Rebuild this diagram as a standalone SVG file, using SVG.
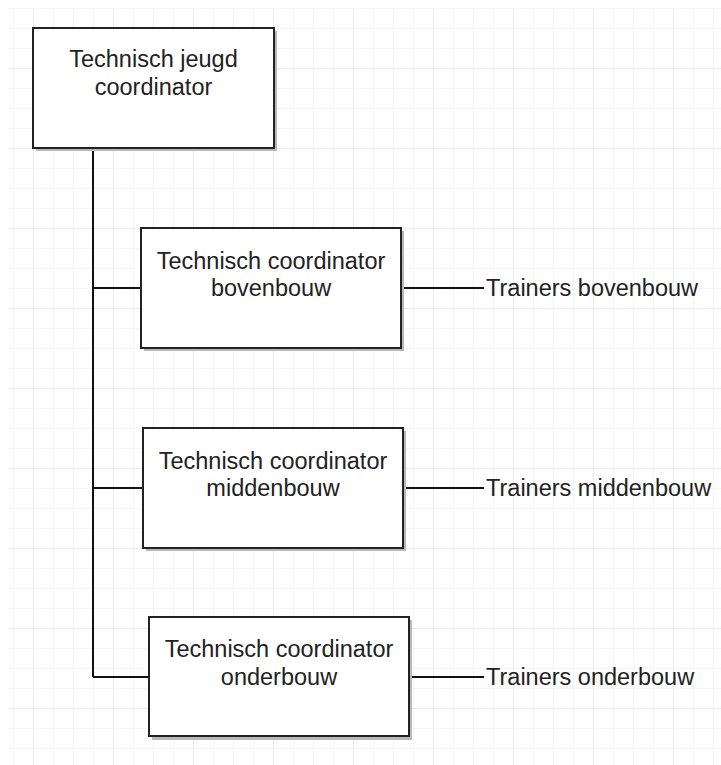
<svg xmlns="http://www.w3.org/2000/svg" width="721" height="765" viewBox="0 0 721 765">
<defs>
<pattern id="minor" x="13" y="8" width="20" height="20" patternUnits="userSpaceOnUse">
<path d="M0 0 V20 M0 0 H20" fill="none" stroke="#f3f3f3" stroke-width="1.5"/>
</pattern>
<pattern id="major" x="33" y="68" width="80" height="80" patternUnits="userSpaceOnUse">
<path d="M0 0 V80 M0 0 H80" fill="none" stroke="#e8e8e8" stroke-width="1.5"/>
</pattern>
</defs>
<style>
.box{fill:#ffffff;stroke:#222222;stroke-width:2}
.shadow{fill:#b8b8b8}
.edge{fill:none;stroke:#111111;stroke-width:2}
.t{font-family:"Liberation Sans",Arial,sans-serif;font-size:23.5px;fill:#222222}
.c{text-anchor:middle}
</style>
<rect width="721" height="765" fill="#ffffff"/>
<rect x="8" y="8" width="713" height="757" fill="url(#minor)"/>
<rect x="8" y="8" width="713" height="757" fill="url(#major)"/>
<g id="connectors">
<path class="edge" d="M93 148 V677"/>
<path class="edge" d="M93 288 H141"/>
<path class="edge" d="M93 488 H143"/>
<path class="edge" d="M93 677 H149"/>
<path class="edge" d="M401 288 H484"/>
<path class="edge" d="M403 488 H484"/>
<path class="edge" d="M409 677 H484"/>
</g>
<g id="jeugd-coordinator">
<rect class="shadow" x="36" y="31" width="241" height="120"/>
<rect class="box" x="33" y="28" width="241" height="120"/>
<text class="t c" x="153.5" y="67">Technisch jeugd</text>
<text class="t c" x="153.5" y="95">coordinator</text>
</g>
<g id="coordinator-bovenbouw">
<rect class="shadow" x="144" y="231" width="260" height="120"/>
<rect class="box" x="141" y="228" width="260" height="120"/>
<text class="t c" x="271" y="269">Technisch coordinator</text>
<text class="t c" x="271" y="296">bovenbouw</text>
</g>
<g id="coordinator-middenbouw">
<rect class="shadow" x="146" y="431" width="260" height="120"/>
<rect class="box" x="143" y="428" width="260" height="120"/>
<text class="t c" x="273" y="469">Technisch coordinator</text>
<text class="t c" x="273" y="496">middenbouw</text>
</g>
<g id="coordinator-onderbouw">
<rect class="shadow" x="152" y="620" width="260" height="120"/>
<rect class="box" x="149" y="617" width="260" height="119"/>
<text class="t c" x="279" y="657">Technisch coordinator</text>
<text class="t c" x="279" y="685">onderbouw</text>
</g>
<g id="trainers-bovenbouw">
<text class="t" x="486" y="296">Trainers bovenbouw</text>
</g>
<g id="trainers-middenbouw">
<text class="t" x="486" y="496">Trainers middenbouw</text>
</g>
<g id="trainers-onderbouw">
<text class="t" x="486" y="685">Trainers onderbouw</text>
</g>
</svg>
